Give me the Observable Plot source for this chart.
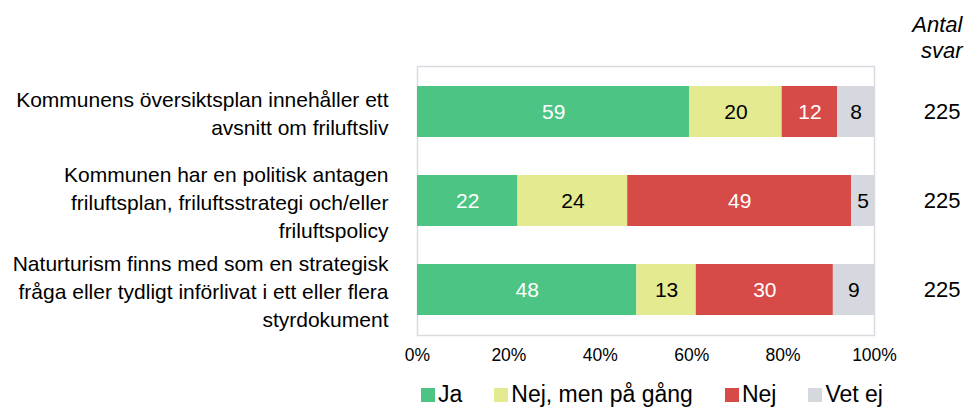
<!DOCTYPE html>
<html>
<head>
<meta charset="utf-8">
<script src="https://cdn.jsdelivr.net/npm/d3@7"></script>
<script src="https://cdn.jsdelivr.net/npm/@observablehq/plot@0.6"></script>
<style>
  html, body { margin: 0; padding: 0; background: #fff; }
  body { width: 967px; height: 408px; position: relative; overflow: hidden; font-family: "Liberation Sans", Arial, sans-serif; }
  #legend { position: absolute; left: 421px; top: 381px; display: flex; align-items: center; font-size: 23px; color: #000; white-space: nowrap; }
  #legend .item { display: flex; align-items: center; margin-right: 32px; }
  #legend .sw { width: 14px; height: 14px; margin-right: 3px; }
</style>
</head>
<body>
<div id="chart"></div>
<div id="legend"></div>
<script>
const categories = [
  "Kommunens översiktsplan innehåller ett\navsnitt om friluftsliv",
  "Kommunen har en politisk antagen\nfriluftsplan, friluftsstrategi och/eller\nfriluftspolicy",
  "Naturturism finns med som en strategisk\nfråga eller tydligt införlivat i ett eller flera\nstyrdokument"
];
const series = ["Ja", "Nej, men på gång", "Nej", "Vet ej"];
const ja = [59, 22, 48];
const nejMenPaGang = [20, 24, 13];
const nej = [12, 49, 30];
const vetEj = [8, 5, 9];
const antalSvar = [225, 225, 225];
const antalHeader = "Antal\nsvar";
const xTicks = [0, 0.2, 0.4, 0.6, 0.8, 1];
const colors = ["#4cc584", "#e4ea90", "#d64b47", "#d5d8de"];
const whiteLabelSeries = ["Ja", "Nej"];

const seriesValues = [ja, nejMenPaGang, nej, vetEj];
const data = categories.flatMap((cat, i) =>
  series.map((s, j) => ({cat, series: s, value: seriesValues[j][i]}))
);
const totals = categories.map((cat, i) => ({cat, n: antalSvar[i]}));

const stackOpts = {x: "value", y: "cat", z: "series", order: series, offset: "normalize"};

const chart = Plot.plot({
  width: 967,
  height: 372,
  marginLeft: 417,
  marginRight: 93,
  marginTop: 66,
  marginBottom: 37,
  style: {fontFamily: "Liberation Sans, Arial, sans-serif", fontSize: "20px", color: "#000", background: "#fff"},
  x: {domain: [0, 1], ticks: xTicks, tickFormat: d => Math.round(d * 100) + "%"},
  y: {domain: categories, paddingInner: 0.43, paddingOuter: 0.215},
  color: {domain: series, range: colors},
  marks: [
    Plot.frame({stroke: "#d8dbe0", strokeWidth: 1.5}),
    Plot.barX(data, Plot.stackX({...stackOpts, fill: "series", inset: 0})),
    Plot.text(data, Plot.stackX({...stackOpts, text: "value", fontSize: 21,
      fill: d => whiteLabelSeries.includes(d.series) ? "white" : "black"})),
    Plot.text(totals, {x: () => 1, y: "cat", text: "n", dx: 86, textAnchor: "end", fontSize: 22}),
    Plot.text([antalHeader], {frameAnchor: "top-right", text: d => d, dx: 88, dy: -9,
      textAnchor: "end", lineAnchor: "bottom", lineHeight: 1.15, fontStyle: "italic", fontSize: 22}),
    Plot.axisX({ticks: xTicks, tickSize: 0, tickPadding: 13, fontSize: 17.5, tickFormat: d => Math.round(d * 100) + "%", label: null}),
    Plot.axisY({tickSize: 0, tickPadding: 29, fontSize: 21, lineHeight: 1.32, textAnchor: "end", label: null, tickFormat: d => d})
  ]
});
document.getElementById("chart").appendChild(chart);

const legend = document.getElementById("legend");
series.forEach((s, i) => {
  const item = document.createElement("div");
  item.className = "item";
  const sw = document.createElement("div");
  sw.className = "sw";
  sw.style.background = colors[i];
  const label = document.createElement("span");
  label.textContent = s;
  item.appendChild(sw);
  item.appendChild(label);
  legend.appendChild(item);
});
</script>
</body>
</html>
